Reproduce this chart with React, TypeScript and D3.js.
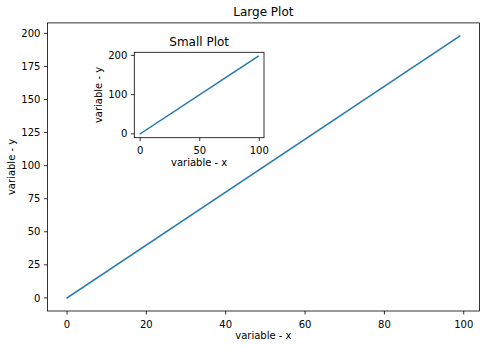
import React from "react";
import * as d3 from "d3";

const W = 490;
const H = 349;

const xValues = [0, 99];
const yValues = [0, 198];

const bigXTicks = [0, 20, 40, 60, 80, 100];
const bigYTicks = [0, 25, 50, 75, 100, 125, 150, 175, 200];
const smallXTicks = [0, 50, 100];
const smallYTicks = [0, 100, 200];

const bigTitle = "Large Plot";
const smallTitle = "Small Plot";
const xLabel = "variable - x";
const yLabel = "variable - y";

const FONT = "DejaVu Sans, sans-serif";
const LINE_COLOR = "#1f77b4";

type PanelProps = {
  left: number;
  top: number;
  right: number;
  bottom: number;
  xTicks: number[];
  yTicks: number[];
  title: string;
  yLabelX: number;
  xLabelDy: number;
  titleDy: number;
};

function Panel({ left, top, right, bottom, xTicks, yTicks, title, yLabelX, xLabelDy, titleDy }: PanelProps) {
  const xMin = d3.min(xValues)!;
  const xMax = d3.max(xValues)!;
  const yMin = d3.min(yValues)!;
  const yMax = d3.max(yValues)!;
  const xPad = (xMax - xMin) * 0.05;
  const yPad = (yMax - yMin) * 0.05;
  const x = d3.scaleLinear().domain([xMin - xPad, xMax + xPad]).range([left, right]);
  const y = d3.scaleLinear().domain([yMin - yPad, yMax + yPad]).range([bottom, top]);
  const pts: [number, number][] = xValues.map((v, i) => [v, yValues[i]]);
  const line = d3.line<[number, number]>().x((d) => x(d[0])).y((d) => y(d[1]));
  const cx = (left + right) / 2;
  const cy = (top + bottom) / 2;
  return (
    <g fontFamily={FONT}>
      <rect x={left} y={top} width={right - left} height={bottom - top} fill="#fff" />
      <path d={line(pts)!} fill="none" stroke={LINE_COLOR} strokeWidth={1.5} strokeLinecap="square" />
      <rect x={left} y={top} width={right - left} height={bottom - top} fill="none" stroke="#000" strokeWidth={0.8} />
      {xTicks.map((t) => (
        <g key={"x" + t}>
          <line x1={x(t)} x2={x(t)} y1={bottom} y2={bottom + 3.5} stroke="#000" strokeWidth={0.8} />
          <text x={x(t)} y={bottom + 16.5} textAnchor="middle" fontSize={10} fill="#000">
            {t}
          </text>
        </g>
      ))}
      {yTicks.map((t) => (
        <g key={"y" + t}>
          <line x1={left - 3.5} x2={left} y1={y(t)} y2={y(t)} stroke="#000" strokeWidth={0.8} />
          <text x={left - 7} y={y(t) + 3.6} textAnchor="end" fontSize={10} fill="#000">
            {t}
          </text>
        </g>
      ))}
      <text x={cx} y={bottom + xLabelDy} textAnchor="middle" fontSize={10} fill="#000">
        {xLabel}
      </text>
      <text
        transform={`translate(${yLabelX},${cy}) rotate(-90)`}
        textAnchor="middle"
        fontSize={10}
        fill="#000"
      >
        {yLabel}
      </text>
      <text x={cx} y={top - titleDy} textAnchor="middle" fontSize={12} fill="#000">
        {title}
      </text>
    </g>
  );
}

export default function App() {
  return (
    <svg
      width={W}
      height={H}
      viewBox={`0 0 ${W} ${H}`}
      style={{ position: "absolute", left: 0, top: 0, background: "#fff" }}
    >
      <rect width={W} height={H} fill="#fff" />
      <Panel
        left={47.4}
        top={22.9}
        right={479.4}
        bottom={311}
        xTicks={bigXTicks}
        yTicks={bigYTicks}
        title={bigTitle}
        yLabelX={15}
        xLabelDy={28}
        titleDy={6.5}
      />
      <Panel
        left={134.3}
        top={52.3}
        right={264}
        bottom={137.7}
        xTicks={smallXTicks}
        yTicks={smallYTicks}
        title={smallTitle}
        yLabelX={102}
        xLabelDy={28}
        titleDy={6.5}
      />
    </svg>
  );
}
